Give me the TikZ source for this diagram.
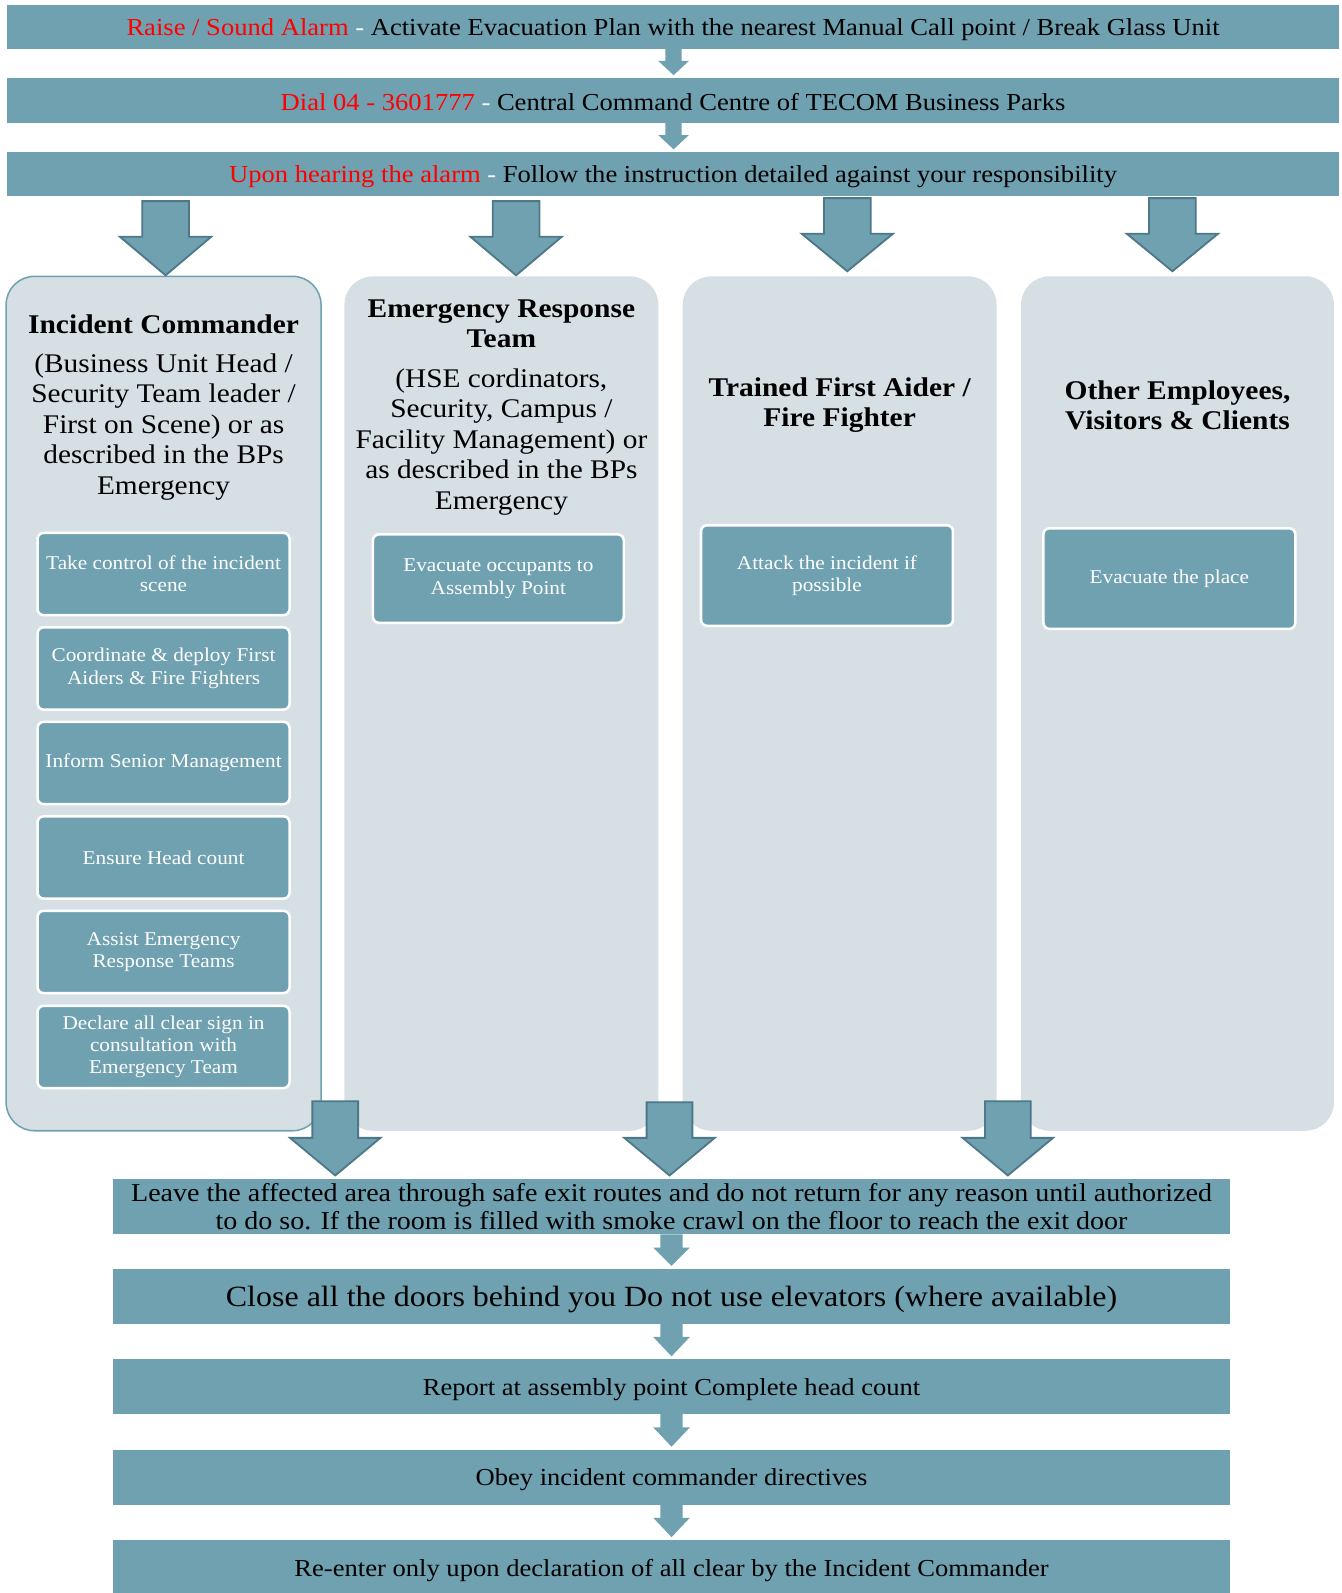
\documentclass[tikz,border=0pt]{standalone}
\usepackage{fontspec}
\setmainfont{Liberation Serif}[FakeStretch=1.09]
\definecolor{barc}{RGB}{111,161,176}
\definecolor{colc}{RGB}{214,223,228}
\definecolor{arrowline}{RGB}{77,120,136}
\definecolor{alarmred}{RGB}{255,0,0}
\newcommand{\blockarrow}[7]{\path[#1] (#2-#6,#3) -- (#2+#6,#3) -- (#2+#6,#4) -- (#2+#7,#4) -- (#2,#5) -- (#2-#7,#4) -- (#2-#6,#4) -- cycle;}
\begin{document}
\begin{tikzpicture}[x=1pt,y=-1pt,
  bar/.style={fill=barc,draw=none,inner sep=0pt,align=center},
  topbar/.style={bar,minimum width=1311pt,minimum height=44pt,font=\fontsize{24}{28}\selectfont},
  botbar/.style={bar,minimum width=1100pt,minimum height=54pt},
  column/.style={fill=colc,draw=none,rounded corners=28pt},
  title/.style={align=center,font=\fontsize{26.6}{30}\selectfont\bfseries,inner sep=0pt},
  body/.style={align=center,font=\fontsize{26.5}{30}\selectfont,inner sep=0pt},
  task/.style={fill=barc,draw=white,line width=2.5pt,rounded corners=6pt,text=white,
    align=center,font=\fontsize{19.2}{22}\selectfont,minimum width=248pt,inner sep=2pt},
  bigarrow/.style={fill=barc,draw=arrowline,line width=1.8pt,line join=miter},
  smallarrow/.style={fill=barc,draw=none}]
\useasboundingbox (0,0) rectangle (1320,1568);

% top bars
\path[fill=barc] (7,5) rectangle (1318,48);
\path[fill=barc] (7,77) rectangle (1318,121);
\path[fill=barc] (7,150) rectangle (1318,193);
\node[topbar,fill=none] (b1) at (662.5,29.5) {\textcolor{alarmred}{Raise / Sound Alarm} \textcolor{white}{-} Activate Evacuation Plan with the nearest Manual Call point / Break Glass Unit};
\node[topbar,fill=none] (b2) at (662.5,100) {\textcolor{alarmred}{Dial 04 - 3601777} \textcolor{white}{-} Central Command Centre of TECOM Business Parks};
\node[topbar,fill=none] (b3) at (662.5,174) {\textcolor{alarmred}{Upon hearing the alarm} \textcolor{white}{-} Follow the instruction detailed against your responsibility};

\blockarrow{smallarrow}{663}{48}{60}{74}{8}{15}
\blockarrow{smallarrow}{663}{121}{133}{147}{8}{15}

% columns
\path[column,draw=barc,line width=1.5pt] (6,272) rectangle (316,1113);
\path[column] (339,272) rectangle (648,1113);
\path[column] (672,272) rectangle (981,1113);
\path[column] (1005,272) rectangle (1313,1113);

% top big arrows
\blockarrow{bigarrow}{163}{198}{233}{271}{23}{45}
\blockarrow{bigarrow}{508}{198}{233}{271}{23}{45}
\blockarrow{bigarrow}{834}{195}{230}{267}{23}{45}
\blockarrow{bigarrow}{1154}{195}{230}{267}{23}{45}

% column texts
\node[title] (t1) at (161,319) {Incident Commander};
\node[body] (d1) at (161,420) {(Business Unit Head /\\Security Team leader /\\First on Scene) or as\\described in the BPs\\Emergency};
\node[title] (t2) at (493.5,318.5) {Emergency Response\\Team};
\node[body] (d2) at (493.5,435) {(HSE cordinators,\\Security, Campus /\\Facility Management) or\\as described in the BPs\\Emergency};
\node[title] (t3) at (826.5,399) {Trained First Aider /\\Fire Fighter};
\node[title] (t4) at (1159,399) {Other Employees,\\Visitors \& Clients};

% task boxes
\node[task,minimum height=81pt] (k1) at (161,565) {Take control of the incident\\scene};
\node[task,minimum height=81pt] (k2) at (161,658) {Coordinate \& deploy First\\Aiders \& Fire Fighters};
\node[task,minimum height=81pt] (k3) at (161,751) {Inform Senior Management};
\node[task,minimum height=81pt] (k4) at (161,844) {Ensure Head count};
\node[task,minimum height=81pt] (k5) at (161,937) {Assist Emergency\\Response Teams};
\node[task,minimum height=81pt] (k6) at (161,1030.5) {Declare all clear sign in\\consultation with\\Emergency Team};
\node[task,minimum width=247pt,minimum height=87pt] (e1) at (490.5,569.5) {Evacuate occupants to\\Assembly Point};
\node[task,minimum height=99pt] (f1) at (814,566.5) {Attack the incident if\\possible};
\node[task,minimum height=99pt] (o1) at (1151,569.5) {Evacuate the place};

% bottom big arrows
\blockarrow{bigarrow}{330}{1084}{1120}{1157}{22.5}{44.5}
\blockarrow{bigarrow}{659}{1085}{1120}{1157}{22.5}{44.5}
\blockarrow{bigarrow}{992}{1084}{1120}{1157}{22.5}{44.5}

% bottom bars
\path[fill=barc] (111,1160) rectangle (1211,1215);
\path[fill=barc] (111,1249) rectangle (1211,1303);
\path[fill=barc] (111,1338) rectangle (1211,1392);
\path[fill=barc] (111,1427) rectangle (1211,1481);
\path[fill=barc] (111,1516) rectangle (1211,1570);
\node[botbar,fill=none,minimum height=55pt,font=\fontsize{25.3}{28}\selectfont] (s1) at (661,1187.5) {Leave the affected area through safe exit routes and do not return for any reason until authorized\\to do so. If the room is filled with smoke crawl on the floor to reach the exit door};
\node[botbar,fill=none,font=\fontsize{28.9}{32}\selectfont] (s2) at (661,1279.5) {Close all the doors behind you Do not use elevators (where available)};
\node[botbar,fill=none,font=\fontsize{24}{28}\selectfont] (s3) at (661,1368) {Report at assembly point Complete head count};
\node[botbar,fill=none,font=\fontsize{24}{28}\selectfont] (s4) at (661,1456) {Obey incident commander directives};
\node[botbar,fill=none,font=\fontsize{24}{28}\selectfont] (s5) at (661,1546) {Re-enter only upon declaration of all clear by the Incident Commander};

\blockarrow{smallarrow}{661}{1215}{1228}{1246}{11}{18}
\blockarrow{smallarrow}{661}{1303}{1316}{1335}{11}{18}
\blockarrow{smallarrow}{661}{1392}{1405}{1424}{11}{18}
\blockarrow{smallarrow}{661}{1481}{1494}{1513}{11}{18}
\end{tikzpicture}
\end{document}
